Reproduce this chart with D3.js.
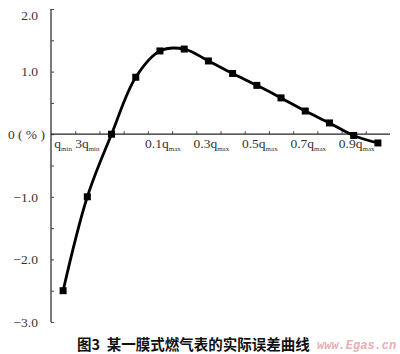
<!DOCTYPE html>
<html><head><meta charset="utf-8">
<script src="https://cdn.jsdelivr.net/npm/d3@7"></script>
<style>
html,body{margin:0;padding:0;background:#fff;}
svg{display:block;}
</style>
</head><body>
<script>
// ---- data ----
const categories = ["qmin","3qmin","c2","c3","0.1qmax","c5","0.3qmax","c7","0.5qmax","c9","0.7qmax","c11","0.9qmax","c13"];
const errorValues = [-2.5, -1.0, 0.0, 0.91, 1.33, 1.36, 1.17, 0.97, 0.78, 0.58, 0.37, 0.18, -0.02, -0.14];
// tick labels: [main text, subscript] ("" = no label)
const xTickMain = ["q","3q","","","0.1q","","0.3q","","0.5q","","0.7q","","0.9q",""];
const xTickSub  = ["min","min","","","max","","max","","max","","max","","max",""];
const yTickValues = [2, 1, 0, -1, -2, -3];
const yTickLabels = ["2.0","1.0","0 ( % )","\u22121.0","\u22122.0","\u22123.0"];
const caption = "图3  某一膜式燃气表的实际误差曲线";
const watermark = "www.Egas.cn";

// ---- layout ----
const W = 400, H = 354;
const svg = d3.select("body").append("svg").attr("width", W).attr("height", H);

const x = d3.scaleBand().domain(d3.range(categories.length)).range([51, 390]).padding(0);
const xb = d3.scaleLinear().domain([0, categories.length]).range([51, 390]);
const y = d3.scaleLinear().domain([-3, 2]).range([322, 9]);

const serif = "Liberation Serif, Times New Roman, serif";

// y axis
const yAxis = d3.axisRight(y).tickValues(d3.range(-3, 2.01, 0.5)).tickSize(3).tickFormat("");
const gy = svg.append("g").attr("transform", "translate(51,0)").call(yAxis);
gy.select(".domain").attr("d", `M0,${y(2)}V${y(-3)}`).attr("stroke", "#222").attr("stroke-width", 1.2);
gy.selectAll(".tick line").attr("stroke", "#444").attr("stroke-width", 1);

svg.append("g").selectAll("text").data(yTickValues).join("text")
  .attr("x", d => d === 0 ? 45 : 38)
  .attr("y", d => Math.max(y(d), 15))
  .attr("dy", "0.35em")
  .attr("text-anchor", "end")
  .attr("font-family", serif)
  .attr("font-size", 13.5)
  .attr("fill", "#333")
  .style("white-space", "pre")
  .text((d, i) => yTickLabels[i]);

// x axis (at zero)
const xAxis = d3.axisTop(xb).tickValues(d3.range(1, categories.length)).tickSize(3).tickFormat("");
const gx = svg.append("g").attr("transform", `translate(0,${y(0)})`).call(xAxis);
gx.select(".domain").attr("d", `M51,0H390`).attr("stroke", "#222").attr("stroke-width", 1.2);
gx.selectAll(".tick line").attr("stroke", "#444");

const xl = svg.append("g").selectAll("text").data(categories).join("text")
  .attr("x", (d, i) => x(i) + x.bandwidth() / 2 + (i < 2 ? 0 : 3))
  .attr("y", y(0) + 14)
  .attr("text-anchor", "middle")
  .attr("font-family", serif)
  .attr("font-size", 13.5)
  .attr("fill", "#333");
xl.append("tspan").text((d, i) => xTickMain[i]);
xl.append("tspan").attr("dy", 3).attr("font-size", 7).text((d, i) => xTickSub[i]);

// curve
const pts = errorValues.map((v, i) => [x(i) + x.bandwidth() / 2, y(v)]);
svg.append("path")
  .attr("d", d3.line().curve(d3.curveCatmullRom.alpha(0.5))(pts))
  .attr("fill", "none").attr("stroke", "#000").attr("stroke-width", 2.8);

const s = 7;
svg.append("g").selectAll("rect").data(errorValues).join("rect")
  .attr("x", (d, i) => x(i) + x.bandwidth() / 2 - s / 2)
  .attr("y", d => y(d) - s / 2)
  .attr("width", s).attr("height", s).attr("fill", "#000");

// caption
svg.append("text").attr("x", 77).attr("y", 350)
  .attr("font-family", "Noto Sans CJK SC, sans-serif")
  .attr("font-weight", 700).attr("font-size", 14.5).attr("fill", "#111")
  .style("white-space", "pre")
  .text(caption);

svg.append("text").attr("x", 317).attr("y", 349)
  .attr("font-family", "Liberation Mono, monospace")
  .attr("font-style", "italic").attr("font-weight", 700)
  .attr("font-size", 12).attr("fill", "#e8a0a8").attr("opacity", 0.85)
  .text(watermark);
</script>
</body></html>
